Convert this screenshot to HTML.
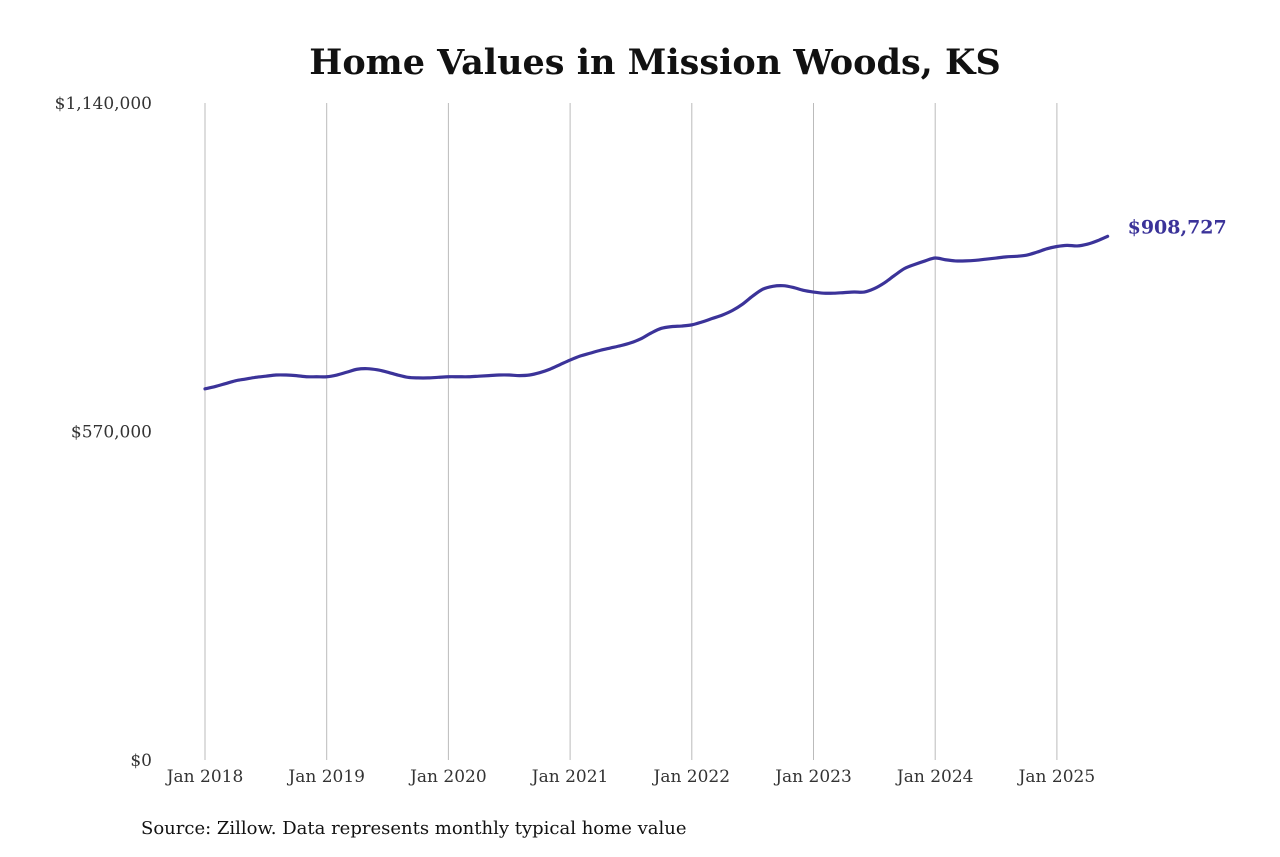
<!DOCTYPE html>
<html><head><meta charset="utf-8">
<style>
html,body{margin:0;padding:0;background:#fff;}
body{width:1280px;height:853px;overflow:hidden;font-family:"DejaVu Serif","Liberation Serif",serif;}
</style></head>
<body>
<svg id="chart" width="1280" height="853" xmlns="http://www.w3.org/2000/svg">
<text x="655" y="74" text-anchor="middle" font-size="35" font-weight="bold" fill="#111">Home Values in Mission Woods, KS</text>
<g id="grid"></g>
<g id="yticks"></g>
<g id="xticks"></g>
<g id="series"></g>
<text x="141" y="834" font-size="18" fill="#111">Source: Zillow. Data represents monthly typical home value</text>
</svg>
<script>
const yTickValues = [0, 570000, 1140000];
const yTickLabels = ["$0", "$570,000", "$1,140,000"];
const xTickYears = [2018, 2019, 2020, 2021, 2022, 2023, 2024, 2025];
const xTickLabels = ["Jan 2018","Jan 2019","Jan 2020","Jan 2021","Jan 2022","Jan 2023","Jan 2024","Jan 2025"];
const startYear = 2018;
// monthly values (thousands), Jan 2018 - Jun 2025
const values = [
644,648,653,658,661,664,666,668,668,667,665,665,
665,668,673,678,679,677,673,668,664,663,663,664,
665,665,665,666,667,668,668,667,668,672,678,686,
694,701,706,711,715,719,724,731,741,749,752,753,
755,760,766,772,780,791,805,817,822,823,820,815,
812,810,810,811,812,812,818,828,841,853,860,866,
871,868,866,866,867,869,871,873,874,876,881,887,
891,893,892,895,901,908.727
];
const lastLabel = "$908,727";

const NS = "http://www.w3.org/2000/svg";
const x0 = 205, yearW = 121.7, yBottom = 760, yTop = 103, yMax = 1140000;
function xScale(monthIndex){ return x0 + monthIndex / 12 * yearW; }
function yScale(v){ return yBottom - v / yMax * (yBottom - yTop); }
function mk(tag, attrs){ const e = document.createElementNS(NS, tag); for (const k in attrs) e.setAttribute(k, attrs[k]); return e; }

const grid = document.getElementById('grid');
const xt = document.getElementById('xticks');
xTickYears.forEach((yr, i) => {
  const x = xScale((yr - startYear) * 12);
  const l = mk('line', {x1:x, x2:x, y1:yTop, y2:yBottom, stroke:'#bbb', 'stroke-width':1});
  
  
  grid.appendChild(l);
  const t = mk('text', {x:x, y:782, 'text-anchor':'middle', 'font-size':17, fill:'#333'});
  
  
  t.textContent = xTickLabels[i];
  xt.appendChild(t);
});
const yt = document.getElementById('yticks');
yTickValues.forEach((v, i) => {
  const t = mk('text', {x:152, y:yScale(v) + 6, 'text-anchor':'end', 'font-size':17, fill:'#333'});
  
  
  t.textContent = yTickLabels[i];
  yt.appendChild(t);
});
const pts = values.map((v, i) => [xScale(i), yScale(v * 1000)]);
let d = 'M' + pts[0][0] + ',' + pts[0][1];
for (let i = 1; i < pts.length; i++) {
  const p0 = pts[i-2] || pts[i-1], p1 = pts[i-1], p2 = pts[i], p3 = pts[i+1] || pts[i];
  const c1x = p1[0] + (p2[0]-p0[0])/6, c1y = p1[1] + (p2[1]-p0[1])/6;
  const c2x = p2[0] - (p3[0]-p1[0])/6, c2y = p2[1] - (p3[1]-p1[1])/6;
  d += ' C' + c1x + ',' + c1y + ' ' + c2x + ',' + c2y + ' ' + p2[0] + ',' + p2[1];
}
const series = document.getElementById('series');
const path = mk('path', {d:d, fill:'none', stroke:'#3b3399', 'stroke-width':3.2, 'stroke-linejoin':'round', 'stroke-linecap':'round'});


series.appendChild(path);
const last = pts[pts.length - 1];
const lbl = mk('text', {x:last[0] + 20, y:last[1] - 3, 'font-size':19, 'font-weight':'bold', fill:'#3b3399'});


lbl.textContent = lastLabel;
series.appendChild(lbl);
</script>
</body></html>
